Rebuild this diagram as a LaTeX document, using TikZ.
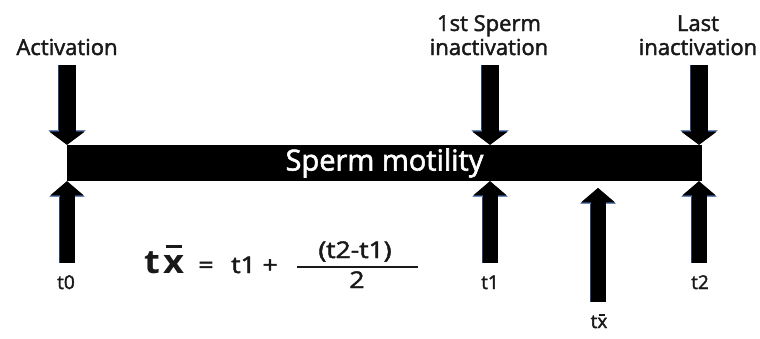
\documentclass[tikz,border=0pt]{standalone}
\usepackage{fontspec}
\setmainfont{Open Sans}
\newfontfamily\lblfont[FakeBold=2]{Open Sans}
\usepackage{xcolor}
\definecolor{edge}{RGB}{40,70,125}
\definecolor{ink}{RGB}{25,25,25}
\usepackage{tikz}
\usetikzlibrary{positioning,arrows.meta,calc}

% x with a bar: raise, rule width, rule thickness
\newcommand{\barx}[3]{\ooalign{x\cr\hfil\raisebox{#1}{\rule{#2}{#3}}\hfil\cr}}

\begin{document}
\begin{tikzpicture}[x=1pt, y=-1pt,
  lbl/.style={font=\lblfont\fontsize{22}{24}\selectfont, text=ink, align=center, inner sep=0pt, anchor=base},
  tlbl/.style={font=\lblfont\fontsize{19}{20}\selectfont, text=ink, inner sep=0pt, anchor=base},
  flbl/.style={font=\lblfont\fontsize{23}{25}\selectfont, text=ink, inner sep=0pt, anchor=base, xscale=1.15, transform shape},
  bar/.style={fill=black, text=white, font=\lblfont\fontsize{29}{31}\selectfont, minimum width=635pt, minimum height=36pt, inner sep=0pt},
  downarr/.style={line width=17pt, -{Triangle[width=35pt,length=13pt,line width=0pt]},
    preaction={draw=edge, line width=18.5pt, -{Triangle[width=37.5pt,length=14.5pt,line width=0pt]}}},
  uparr/.style={line width=15pt, -{Triangle[width=33pt,length=14pt,line width=0pt]},
    preaction={draw=edge, line width=16.5pt, -{Triangle[width=35.5pt,length=15.5pt,line width=0pt]}}}]
\useasboundingbox (0,0) rectangle (760,338);
\node[bar] (bar) at (384.5,163) {Sperm motility};
\node[lbl] (act) at (67,55) {Activation};
\node[lbl] (first) at (489,55) {1st Sperm\\inactivation};
\node[lbl] (last) at (698,55) {Last\\inactivation};
\coordinate (a0) at (67,65);
\coordinate (a1) at (490,65);
\coordinate (a2) at (699,65);
\draw[downarr] (a0) -- (a0 |- bar.north);
\draw[downarr] (a1) -- (a1 |- bar.north);
\draw[downarr] (a2) -- (a2 |- bar.north);
\coordinate (b0) at (67,263);
\coordinate (b1) at (490,263);
\coordinate (b2) at (699,263);
\coordinate (bm) at (598,302);
\coordinate (bmtip) at (598,188);
\draw[uparr] (b0) -- (b0 |- bar.south);
\draw[uparr] (b1) -- (b1 |- bar.south);
\draw[uparr] (b2) -- (b2 |- bar.south);
\draw[uparr] (bm) -- (bmtip);
\node[tlbl] (t0) at (66,289) {t0};
\node[tlbl] (t1) at (490,289) {t1};
\node[tlbl] (t2) at (700,289) {t2};
\node[tlbl] (tm) at (599,328) {t\barx{12.5pt}{6pt}{1.3pt}};
\node[font=\fontsize{33}{35}\selectfont\bfseries, text=ink, inner sep=0pt, anchor=base west,
      xscale=1.1, transform shape] (lhs) at (144,273) {t\hspace{3pt}\barx{25pt}{15pt}{2.6pt}};
\node[flbl] (eq) at (206,273) {=};
\node[flbl, anchor=base west] (rhs) at (231,273) {t1 +};
\node[flbl] (num) at (355,258) {(t2-t1)};
\node[flbl] (den) at (357,288) {2};
\draw[ink, line width=2.8pt] (297,267) coordinate (fl) -- (418,267) coordinate (fr);
\end{tikzpicture}
\end{document}
